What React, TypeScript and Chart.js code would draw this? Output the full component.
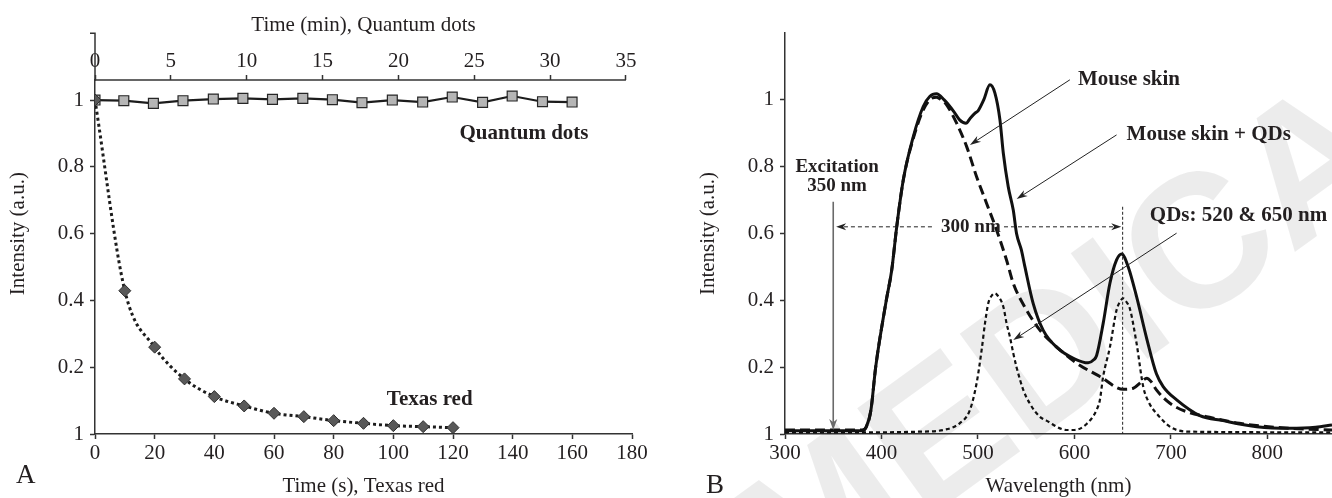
import React, { useEffect, useRef } from 'react';
import { Chart, registerables } from 'chart.js';

Chart.register(...registerables);

// ---------- Panel A data ----------
const qdTimesMin = [0, 1.9, 3.85, 5.8, 7.8, 9.75, 11.7, 13.7, 15.65, 17.6, 19.6, 21.6, 23.55, 25.55, 27.5, 29.5, 31.45];
const qdIntensity = [1.0, 0.998, 0.99, 0.998, 1.003, 1.005, 1.002, 1.005, 1.001, 0.992, 1.0, 0.994, 1.009, 0.993, 1.012, 0.995, 0.994];
const trTimesSec = [0, 10, 20, 30, 40, 50, 60, 70, 80, 90, 100, 110, 120];
const trIntensity = [1.0, 0.429, 0.26, 0.165, 0.112, 0.084, 0.062, 0.052, 0.04, 0.032, 0.025, 0.022, 0.019];

// ---------- Panel B data ----------
const skinQdWl = [300, 340, 380, 384, 389, 394, 405, 410.6, 415.8, 422.6, 433, 443.3, 450, 457, 465, 475, 481, 487.6, 492, 497, 500.3, 506, 512.4, 517.6, 522.8, 526.3, 531.4, 536.6, 540, 545, 548.7, 557.3, 567.7, 583, 600, 614.3, 620, 623, 629.8, 636.8, 643.7, 649, 655.8, 664.5, 675, 685, 692, 706, 730, 754, 789, 823, 850, 867];
const skinQdInt = [0.01, 0.01, 0.01, 0.02, 0.07, 0.2, 0.4, 0.49, 0.62, 0.76, 0.89, 0.98, 1.01, 1.018, 1.0, 0.965, 0.94, 0.93, 0.945, 0.96, 0.968, 1.0, 1.045, 1.02, 0.94, 0.84, 0.74, 0.67, 0.6, 0.551, 0.5, 0.39, 0.31, 0.256, 0.225, 0.213, 0.222, 0.235, 0.331, 0.451, 0.521, 0.539, 0.5, 0.41, 0.285, 0.18, 0.142, 0.102, 0.055, 0.04, 0.022, 0.017, 0.02, 0.027];

const skinWl = [300, 380, 384, 389, 394, 405, 410.6, 415.8, 422.6, 433, 443.3, 450, 457, 462, 467.5, 477.9, 488.3, 498.6, 509, 519.4, 529.7, 536.6, 550.4, 564.2, 581.5, 602.3, 626.4, 650.6, 661, 669, 675, 680, 685, 699, 716, 737, 771, 823, 867];
const skinInt = [0.012, 0.012, 0.02, 0.07, 0.2, 0.4, 0.49, 0.62, 0.76, 0.885, 0.97, 1.0, 1.008, 1.0, 0.985, 0.93, 0.86, 0.77, 0.69, 0.61, 0.52, 0.451, 0.371, 0.311, 0.261, 0.212, 0.172, 0.134, 0.137, 0.155, 0.167, 0.155, 0.132, 0.092, 0.067, 0.052, 0.032, 0.017, 0.012];

const qdWl = [300, 380, 440, 464, 481, 491.7, 498.6, 503.8, 507.3, 510.7, 514, 517.6, 520, 526.3, 529.7, 533.2, 536.6, 540, 547, 554, 564, 571, 592, 600, 612.6, 623, 626.4, 629.8, 636.8, 643.7, 647, 650.6, 654, 657.5, 664.5, 671.3, 678, 685, 700, 720, 867];
const qdInt = [0.005, 0.005, 0.007, 0.012, 0.032, 0.072, 0.152, 0.251, 0.331, 0.391, 0.413, 0.421, 0.416, 0.381, 0.331, 0.29, 0.242, 0.2, 0.132, 0.09, 0.052, 0.04, 0.012, 0.012, 0.03, 0.072, 0.102, 0.172, 0.26, 0.371, 0.395, 0.406, 0.395, 0.375, 0.27, 0.142, 0.09, 0.062, 0.02, 0.007, 0.005];

// ---------- Tick values / labels ----------
const yTickValues = [0, 0.2, 0.4, 0.6, 0.8, 1];
const yTickLabels = ['1', '0.2', '0.4', '0.6', '0.8', '1'];
const aBottomTicks = [0, 20, 40, 60, 80, 100, 120, 140, 160, 180];
const aTopTicks = [0, 5, 10, 15, 20, 25, 30, 35];
const bBottomTicks = [300, 400, 500, 600, 700, 800];

const FONT = "'Liberation Serif', 'Times New Roman', serif";
const INK = '#231f20';
const AXIS = '#333333';
const LINE = '#1c1c1c';

function stealth(ctx: any, x1: number, y1: number, x2: number, y2: number, len: number, halfW: number) {
  const a = Math.atan2(y2 - y1, x2 - x1);
  const c = Math.cos(a), s = Math.sin(a);
  const bx = x2 - c * len, by = y2 - s * len;
  const nx = x2 - c * len * 0.7, ny = y2 - s * len * 0.7;
  ctx.beginPath();
  ctx.moveTo(x2, y2);
  ctx.lineTo(bx - s * halfW, by + c * halfW);
  ctx.lineTo(nx, ny);
  ctx.lineTo(bx + s * halfW, by - c * halfW);
  ctx.closePath();
  ctx.fill();
}

function arrow(ctx: any, x1: number, y1: number, x2: number, y2: number, color: string, width: number, dash: number[] = [], len = 11, halfW = 4) {
  ctx.save();
  ctx.strokeStyle = color;
  ctx.fillStyle = color;
  ctx.lineWidth = width;
  ctx.setLineDash(dash);
  const a = Math.atan2(y2 - y1, x2 - x1);
  ctx.beginPath();
  ctx.moveTo(x1, y1);
  ctx.lineTo(x2 - Math.cos(a) * len * 0.6, y2 - Math.sin(a) * len * 0.6);
  ctx.stroke();
  ctx.setLineDash([]);
  stealth(ctx, x1, y1, x2, y2, len, halfW);
  ctx.restore();
}

function text(ctx: any, t: string, x: number, y: number, size: number, bold: boolean, align: string = 'center', baseline: string = 'middle') {
  ctx.save();
  ctx.fillStyle = INK;
  ctx.font = `${bold ? 'bold ' : ''}${size}px ${FONT}`;
  ctx.textAlign = align;
  ctx.textBaseline = baseline;
  ctx.fillText(t, x, y);
  ctx.restore();
}

function yTitle(chart: any) {
  const { ctx, chartArea, scales } = chart;
  const y = scales.y;
  const cy = (y.getPixelForValue(0) + y.getPixelForValue(1.2)) / 2;
  ctx.save();
  ctx.translate(chartArea.left - 77, cy);
  ctx.rotate(-Math.PI / 2);
  ctx.fillStyle = INK;
  ctx.font = `21px ${FONT}`;
  ctx.textAlign = 'center';
  ctx.textBaseline = 'middle';
  ctx.fillText('Intensity (a.u.)', 0, 0);
  ctx.restore();
}

const tickFont = { family: FONT, size: 21 };
const gridOpts = { drawOnChartArea: false, drawTicks: true, tickLength: 5, tickColor: AXIS, tickWidth: 1.5 };
const borderOpts = { display: true, color: AXIS, width: 1.5 };
const yTickCallback = (v: number) => {
  const i = yTickValues.findIndex((t) => Math.abs(t - v) < 1e-6);
  return i >= 0 ? yTickLabels[i] : '';
};
const setTicks = (vals: number[]) => (s: any) => {
  s.ticks = vals.map((v) => ({ value: v }));
};

const panelAPlugin = {
  id: 'panelA',
  afterDraw(chart: any) {
    const { ctx, chartArea, scales } = chart;
    const y = scales.y, xTop = scales.xTop, x = scales.x;
    ctx.save();
    ctx.strokeStyle = AXIS;
    ctx.lineWidth = 1.5;
    const yTopPx = y.getPixelForValue(1.2);
    ctx.beginPath();
    ctx.moveTo(chartArea.left, chartArea.top + 1);
    ctx.lineTo(chartArea.left, yTopPx);
    ctx.lineTo(chartArea.left - 5, yTopPx);
    ctx.stroke();
    ctx.beginPath();
    ctx.moveTo(xTop.getPixelForValue(0), chartArea.top);
    ctx.lineTo(xTop.getPixelForValue(35), chartArea.top);
    ctx.stroke();
    ctx.restore();
    yTitle(chart);
    text(ctx, 'Quantum dots', xTop.getPixelForValue(28.28), y.getPixelForValue(0.901), 21, true);
    text(ctx, 'Texas red', x.getPixelForValue(112.2), y.getPixelForValue(0.102), 21, true);
    text(ctx, 'A', chartArea.left - 79, 483, 27, false, 'left', 'alphabetic');
  },
};

const panelBPlugin = {
  id: 'panelB',
  beforeDraw(chart: any) {
    const { ctx } = chart;
    ctx.save();
    ctx.fillStyle = 'rgba(0,0,0,0.075)';
    ctx.font = "bold 190px 'Liberation Sans', Arial, sans-serif";
    ctx.translate(1068 - 660, 352);
    ctx.rotate((-36 * Math.PI) / 180);
    ctx.textAlign = 'center';
    ctx.textBaseline = 'middle';
    ctx.fillText('MEDICA', 0, 0);
    ctx.restore();
  },
  afterDraw(chart: any) {
    const { ctx, chartArea, scales } = chart;
    const x = scales.x, y = scales.y;
    const X = (v: number) => x.getPixelForValue(v);
    const Y = (v: number) => y.getPixelForValue(v);
    yTitle(chart);
    text(ctx, 'B', chartArea.left - 79, 493, 27, false, 'left', 'alphabetic');

    // excitation arrow
    arrow(ctx, X(350), Y(0.695), X(350), Y(0.012), '#6a6a6a', 1.6, [], 11, 4);
    text(ctx, 'Excitation', X(354), Y(0.8), 19, true);
    text(ctx, '350 nm', X(354), Y(0.743), 19, true);

    // 300 nm span
    arrow(ctx, X(452.3), Y(0.62), X(353), Y(0.62), '#222', 1, [4, 3], 10, 3.5);
    arrow(ctx, X(527), Y(0.62), X(648.5), Y(0.62), '#222', 1, [4, 3], 10, 3.5);
    text(ctx, '300 nm', X(492.7), Y(0.62), 19, true);

    // vertical line at 650 nm
    ctx.save();
    ctx.strokeStyle = '#222';
    ctx.lineWidth = 1;
    ctx.setLineDash([3, 2]);
    ctx.beginPath();
    ctx.moveTo(X(650), Y(0.68));
    ctx.lineTo(X(650), Y(0));
    ctx.stroke();
    ctx.restore();

    // callouts
    arrow(ctx, X(595.3), Y(1.06), X(491.7), Y(0.865), '#222', 1, [], 11, 3.5);
    text(ctx, 'Mouse skin', X(603.6), Y(1.06), 21, true, 'left');
    arrow(ctx, X(643.7), Y(0.895), X(540.1), Y(0.703), '#222', 1, [], 11, 3.5);
    text(ctx, 'Mouse skin + QDs', X(654.1), Y(0.895), 21, true, 'left');
    arrow(ctx, X(705.9), Y(0.601), X(536.6), Y(0.281), '#222', 1, [], 11, 3.5);
    text(ctx, 'QDs: 520 & 650 nm', X(678.2), Y(0.653), 21, true, 'left');
  },
};

function makeA(canvas: HTMLCanvasElement) {
  return new Chart(canvas, {
    type: 'line',
    data: {
      datasets: [
        {
          label: 'Texas red',
          xAxisID: 'x',
          yAxisID: 'y',
          data: trTimesSec.map((t, i) => ({ x: t, y: trIntensity[i] })),
          borderColor: LINE,
          borderWidth: 3,
          borderDash: [3, 3],
          cubicInterpolationMode: 'monotone',
          pointStyle: 'rectRot',
          pointRadius: 6,
          pointBackgroundColor: '#595959',
          pointBorderColor: '#2e2e2e',
          pointBorderWidth: 1,
          fill: false,
        },
        {
          label: 'Quantum dots',
          xAxisID: 'xTop',
          yAxisID: 'y',
          data: qdTimesMin.map((t, i) => ({ x: t, y: qdIntensity[i] })),
          borderColor: LINE,
          borderWidth: 2.2,
          tension: 0,
          pointStyle: 'rect',
          pointRadius: 7,
          pointBackgroundColor: '#b5b5b5',
          pointBorderColor: '#262626',
          pointBorderWidth: 1.2,
          fill: false,
        },
      ],
    } as any,
    options: {
      animation: false,
      responsive: false,
      maintainAspectRatio: false,
      layout: { padding: { left: 0, right: 28, top: 0, bottom: 0 } },
      plugins: { legend: { display: false }, tooltip: { enabled: false } },
      scales: {
        x: {
          type: 'linear',
          position: 'bottom',
          min: 0,
          max: 180,
          afterBuildTicks: setTicks(aBottomTicks),
          afterFit: (s: any) => { s.height = 64; },
          ticks: { autoSkip: false, maxRotation: 0, padding: 2, font: tickFont, color: INK },
          grid: gridOpts,
          border: borderOpts,
          title: { display: true, text: 'Time (s), Texas red', color: INK, font: { family: FONT, size: 21, lineHeight: 1 }, padding: { top: 0, bottom: 1.5 } },
        },
        xTop: {
          type: 'linear',
          position: 'top',
          min: 0,
          max: 35.4,
          afterBuildTicks: setTicks(aTopTicks),
          afterFit: (s: any) => { s.height = 80; },
          ticks: { autoSkip: false, maxRotation: 0, padding: 1, font: tickFont, color: INK },
          grid: gridOpts,
          border: { display: false },
          title: { display: true, text: 'Time (min), Quantum dots', color: INK, font: { family: FONT, size: 21, lineHeight: 1 }, padding: { top: 14.5, bottom: 0 } },
        },
        y: {
          type: 'linear',
          min: 0,
          max: 1.06,
          afterBuildTicks: setTicks(yTickValues),
          afterFit: (s: any) => { s.width = 95; },
          ticks: { autoSkip: false, padding: 6, font: tickFont, color: INK, callback: yTickCallback },
          grid: gridOpts,
          border: borderOpts,
        },
      },
    } as any,
    plugins: [panelAPlugin],
  });
}

function makeB(canvas: HTMLCanvasElement) {
  const common = { pointRadius: 0, cubicInterpolationMode: 'monotone', fill: false, borderJoinStyle: 'round' };
  return new Chart(canvas, {
    type: 'line',
    data: {
      datasets: [
        {
          label: 'Mouse skin + QDs',
          data: skinQdWl.map((w, i) => ({ x: w, y: skinQdInt[i] })),
          borderColor: '#111',
          borderWidth: 3,
          ...common,
        },
        {
          label: 'Mouse skin',
          data: skinWl.map((w, i) => ({ x: w, y: skinInt[i] })),
          borderColor: '#111',
          borderWidth: 3,
          borderDash: [10, 5],
          ...common,
        },
        {
          label: 'QDs',
          data: qdWl.map((w, i) => ({ x: w, y: qdInt[i] })),
          borderColor: '#111',
          borderWidth: 2.2,
          borderDash: [4, 3],
          ...common,
        },
      ],
    } as any,
    options: {
      animation: false,
      responsive: false,
      maintainAspectRatio: false,
      layout: { padding: { left: 0, right: 0, top: 33, bottom: 0 } },
      plugins: { legend: { display: false }, tooltip: { enabled: false } },
      scales: {
        x: {
          type: 'linear',
          position: 'bottom',
          min: 300,
          max: 867,
          afterBuildTicks: setTicks(bBottomTicks),
          afterFit: (s: any) => { s.height = 64; },
          ticks: { autoSkip: false, maxRotation: 0, padding: 2, font: tickFont, color: INK },
          grid: gridOpts,
          border: borderOpts,
          title: { display: true, text: 'Wavelength (nm)', color: INK, font: { family: FONT, size: 21, lineHeight: 1 }, padding: { top: 0, bottom: 1 } },
        },
        y: {
          type: 'linear',
          min: 0,
          max: 1.2,
          afterBuildTicks: setTicks(yTickValues),
          afterFit: (s: any) => { s.width = 125; },
          ticks: { autoSkip: false, padding: 6, font: tickFont, color: INK, callback: yTickCallback },
          grid: gridOpts,
          border: borderOpts,
        },
      },
    } as any,
    plugins: [panelBPlugin],
  });
}

function Panel({ width, make }: { width: number; make: (c: HTMLCanvasElement) => Chart }) {
  const ref = useRef<HTMLCanvasElement | null>(null);
  useEffect(() => {
    if (!ref.current) return;
    const chart = make(ref.current);
    return () => chart.destroy();
  }, [make]);
  return <canvas ref={ref} width={width} height={498} style={{ display: 'block', width, height: 498 }} />;
}

export default function App() {
  useEffect(() => {
    document.body.style.margin = '0';
    document.body.style.overflow = 'hidden';
  }, []);
  return (
    <div style={{ display: 'flex', width: 1332, height: 498, overflow: 'hidden', background: '#fff' }}>
      <Panel width={660} make={makeA} />
      <Panel width={672} make={makeB} />
    </div>
  );
}
